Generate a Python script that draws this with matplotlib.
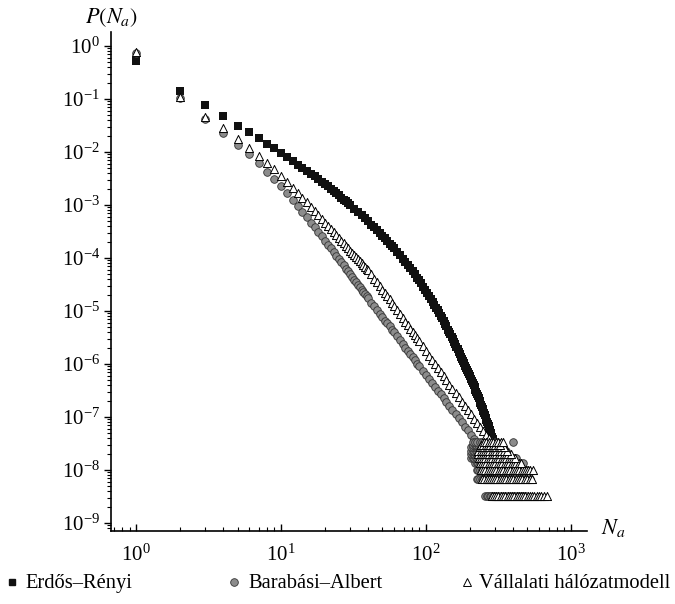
import numpy as np
import matplotlib
matplotlib.use('Agg')
import matplotlib.pyplot as plt
from matplotlib.lines import Line2D
from matplotlib.ticker import LogLocator, LogFormatterMathtext, NullFormatter

plt.rcParams['font.family'] = ['Liberation Serif', 'DejaVu Serif']
plt.rcParams['mathtext.fontset'] = 'stix'

labels = ['Erdős–Rényi', 'Barabási–Albert', 'Vállalati hálózatmodell']

# Erdős–Rényi: N_a and log10 P(N_a)
er_n = list(range(1, 31)) + list(range(32, 61, 2)) + list(range(63, 91, 3)) + list(range(93, 292, 3))
er_logp = [-0.28, -0.84, -1.12, -1.33, -1.50, -1.63, -1.74, -1.84, -1.93, -2.02,
           -2.10, -2.17, -2.24, -2.30, -2.36, -2.41, -2.46, -2.51, -2.56, -2.61,
           -2.65, -2.70, -2.74, -2.78, -2.82, -2.86, -2.90, -2.93, -2.97, -3.00,
           -3.07, -3.13, -3.19, -3.25, -3.31, -3.37, -3.42, -3.48, -3.53, -3.58,
           -3.63, -3.68, -3.73, -3.78, -3.82,
           -3.89, -3.95, -4.01, -4.07, -4.13, -4.19, -4.25, -4.31, -4.37, -4.42,
           -4.48, -4.54, -4.60, -4.66, -4.72, -4.77, -4.83, -4.88, -4.94, -4.99,
           -5.04, -5.09, -5.14, -5.19, -5.24, -5.29, -5.35, -5.40, -5.44, -5.49,
           -5.53, -5.58, -5.62, -5.67, -5.72, -5.77, -5.81, -5.86, -5.90, -5.94,
           -5.98, -6.03, -6.07, -6.11, -6.15, -6.19, -6.23, -6.28, -6.32, -6.36,
           -6.40, -6.44, -6.49, -6.53, -6.57, -6.61, -6.65, -6.69, -6.73, -6.77,
           -6.81, -6.85, -6.89, -6.93, -6.97, -7.01, -7.05, -7.09, -7.13, -7.17,
           -7.21, -7.25, -7.30, -7.34, -7.38, -7.42, -7.45]

# Barabási–Albert
ba_n = list(range(1, 41)) + list(range(42, 61, 2)) + list(range(63, 91, 3)) + \
    [95, 100, 105, 110, 115, 120, 126, 132, 138, 145, 152, 160, 168, 176, 185, 194, 204, 214]
ba_logp = [-0.13, -0.98, -1.38, -1.64, -1.87, -2.04, -2.21, -2.38, -2.51, -2.64,
           -2.77, -2.90, -3.02, -3.13, -3.23, -3.33, -3.42, -3.51, -3.59, -3.67,
           -3.75, -3.82, -3.89, -3.96, -4.02, -4.08, -4.14, -4.20, -4.25, -4.31,
           -4.36, -4.41, -4.46, -4.50, -4.55, -4.60, -4.64, -4.68, -4.72, -4.76,
           -4.84, -4.91, -4.98, -5.05, -5.11, -5.18, -5.23, -5.29, -5.35, -5.40,
           -5.48, -5.55, -5.62, -5.69, -5.75, -5.82, -5.87, -5.93, -5.99, -6.04,
           -6.13, -6.21, -6.29, -6.36, -6.43, -6.50, -6.57, -6.65, -6.72, -6.79,
           -6.87, -6.95, -7.02, -7.10, -7.18, -7.25, -7.33, -7.41]

# Vállalati hálózatmodell
vh_n = list(range(1, 41)) + list(range(42, 61, 2)) + list(range(63, 91, 3)) + \
    [95, 100, 105, 110, 115, 120, 126, 132, 138, 145, 152, 160, 168, 176, 185, 194,
     204, 214, 225, 236, 248, 260, 272]
vh_logp = [-0.11, -0.96, -1.34, -1.55, -1.75, -1.92, -2.08, -2.21, -2.32, -2.45,
           -2.56, -2.67, -2.77, -2.86, -2.95, -3.03, -3.11, -3.19, -3.26, -3.33,
           -3.39, -3.45, -3.51, -3.57, -3.62, -3.67, -3.72, -3.77, -3.81, -3.86,
           -3.90, -3.94, -3.98, -4.02, -4.06, -4.10, -4.13, -4.17, -4.20, -4.23,
           -4.31, -4.39, -4.46, -4.53, -4.60, -4.66, -4.72, -4.78, -4.84, -4.90,
           -4.98, -5.06, -5.13, -5.20, -5.27, -5.33, -5.39, -5.45, -5.51, -5.57,
           -5.66, -5.76, -5.84, -5.92, -6.00, -6.07, -6.15, -6.23, -6.31, -6.39,
           -6.47, -6.55, -6.63, -6.71, -6.79, -6.87, -6.95, -7.03, -7.11, -7.19,
           -7.27, -7.34, -7.40]

# tails: discrete probability levels -> N_a values seen on that row
ba_tail = {
    3.3e-9: [255, 262, 268, 275, 282, 290, 298, 315, 330, 350, 370, 390, 410, 430, 450, 470, 490],
    6.7e-9: [225, 230, 236, 242, 248, 255, 262, 270, 278, 287, 296, 307, 318, 331, 345, 360, 375,
             392, 410, 430, 450, 470, 490, 520],
    1.0e-8: [225, 230, 236, 242, 248, 255, 262, 270, 278, 287, 296, 307, 318, 331, 345, 360, 375,
             392, 410, 430, 450, 475, 500],
    1.33e-8: [218, 223, 228, 234, 240, 246, 253, 260, 268, 276, 285, 295, 305, 317, 330, 345, 360,
              377, 395, 412, 430, 448, 465],
    1.67e-8: [205, 210, 215, 220, 226, 232, 238, 245, 252, 260, 268, 277, 286, 297, 308, 321, 335,
              350, 365, 380, 395, 408, 420],
    2.0e-8: [205, 210, 215, 220, 226, 232, 238, 245, 252, 260, 268, 277, 286, 297, 308, 321, 335,
             352, 370],
    2.33e-8: [205, 210, 215, 220, 226, 233, 240, 248, 256, 265, 275, 286, 298, 311, 325, 340, 355],
    2.67e-8: [205, 210, 216, 222, 228, 235, 243, 251, 260, 270, 280, 292, 305, 320, 335],
    3.0e-8: [210, 216, 222, 229, 236, 244, 252, 262, 272, 283, 295, 307, 320],
    3.33e-8: [212, 219, 226, 234, 242, 252, 262, 273, 285, 297, 310, 398],
}
vh_tail = {
    3.3e-9: [285, 295, 305, 316, 328, 340, 352, 365, 378, 392, 406, 421, 436, 452, 468, 485, 503,
             521, 540, 560, 580, 601, 623, 650, 683],
    6.7e-9: [245, 253, 262, 271, 280, 290, 300, 311, 322, 334, 346, 359, 372, 386, 400, 415, 430,
             446, 462, 480, 500, 518, 535],
    1.0e-8: [240, 248, 257, 266, 275, 285, 295, 306, 317, 329, 341, 354, 367, 381, 395, 410, 425,
             441, 457, 473, 490, 505, 520, 545],
    1.33e-8: [235, 243, 252, 261, 270, 280, 290, 301, 312, 324, 336, 349, 362, 376, 390, 405, 420,
              435, 450],
    1.67e-8: [232, 240, 248, 257, 266, 276, 286, 297, 308, 320, 332, 345, 358, 372, 386, 398, 410],
    2.0e-8: [230, 238, 246, 255, 264, 274, 284, 295, 306, 318, 330, 343, 356, 370, 385],
    2.33e-8: [230, 238, 246, 255, 264, 274, 284, 295, 306, 318, 330, 345, 360],
    2.67e-8: [235, 243, 252, 262, 272, 283, 294, 306, 318, 331, 345],
    3.0e-8: [240, 249, 258, 268, 278, 289, 300, 312, 325],
    3.33e-8: [250, 260, 270, 281, 292, 303, 315, 327, 340],
}


def tail_points(tail):
    xs, ys = [], []
    for level, ns in tail.items():
        xs += ns
        ys += [level] * len(ns)
    return xs, ys


W, H = 675, 604
fig = plt.figure(figsize=(W / 100, H / 100), dpi=100)
ax = fig.add_axes([111 / W, 1 - 531 / H, 476 / W, 499 / H])

sq = dict(marker='s', s=29, color='#111111', linewidths=0)
ci = dict(marker='o', s=30, facecolor='#8c8c8c', edgecolor='#333333', linewidths=0.6)
tr = dict(marker='^', s=34, facecolor='white', edgecolor='black', linewidths=0.7)

ax.scatter(er_n, 10.0 ** np.array(er_logp), zorder=2, **sq)
ax.scatter(ba_n, 10.0 ** np.array(ba_logp), zorder=3, **ci)
bx, by = tail_points(ba_tail)
ax.scatter(bx, by, zorder=3, **ci)
ax.scatter(vh_n, 10.0 ** np.array(vh_logp), zorder=4, **tr)
vx, vy = tail_points(vh_tail)
ax.scatter(vx, vy, zorder=4, **tr)

ax.set_xscale('log')
ax.set_yscale('log')
ax.set_xlim(0.67, 1290)
ax.set_ylim(10 ** -9.15, 10 ** 0.264)

for sp in ['top', 'right']:
    ax.spines[sp].set_visible(False)
for sp in ['left', 'bottom']:
    ax.spines[sp].set_linewidth(1.2)

ax.xaxis.set_major_locator(LogLocator(base=10, numticks=10))
ax.xaxis.set_minor_locator(LogLocator(base=10, subs=np.arange(2, 10), numticks=10))
ax.yaxis.set_major_locator(LogLocator(base=10, numticks=20))
ax.yaxis.set_minor_locator(LogLocator(base=10, subs=np.arange(2, 10), numticks=20))
ax.xaxis.set_major_formatter(LogFormatterMathtext())
ax.yaxis.set_major_formatter(LogFormatterMathtext())
ax.xaxis.set_minor_formatter(NullFormatter())
ax.yaxis.set_minor_formatter(NullFormatter())

ax.tick_params(axis='x', which='major', direction='in', length=5, width=1, labelsize=15, pad=10)
ax.tick_params(axis='x', which='minor', direction='in', length=3, width=0.8)
ax.tick_params(axis='y', which='major', direction='out', length=5, width=1, labelsize=15, pad=3)
ax.tick_params(axis='y', which='minor', direction='out', length=3, width=0.8)

ax.annotate(r'$P(N_a)$', xy=(0, 1), xycoords='axes fraction', xytext=(0, 2),
            textcoords='offset points', ha='center', va='bottom', fontsize=16)
ax.annotate(r'$N_a$', xy=(1, 0), xycoords='axes fraction', xytext=(10, 2),
            textcoords='offset points', ha='left', va='center', fontsize=16)

# legend row along the bottom, placed by pixel position
leg_marker_y = 1 - 582 / H
leg_base_y = 1 - 588 / H
leg_marker_x = [12, 234, 467]
leg_text_x = [25, 248, 479]
leg_styles = [
    dict(marker='s', ms=5, color='#111111'),
    dict(marker='o', ms=5.5, markerfacecolor='#8c8c8c', markeredgecolor='#333333', markeredgewidth=0.6),
    dict(marker='^', ms=5.5, markerfacecolor='white', markeredgecolor='black', markeredgewidth=0.7),
]
for mx, tx, st, lab in zip(leg_marker_x, leg_text_x, leg_styles, labels):
    fig.add_artist(Line2D([mx / W], [leg_marker_y], ls='none', transform=fig.transFigure, **st))
    fig.text(tx / W, leg_base_y, lab, ha='left', va='baseline', fontsize=14.8)

fig.savefig('out.png', dpi=100)
